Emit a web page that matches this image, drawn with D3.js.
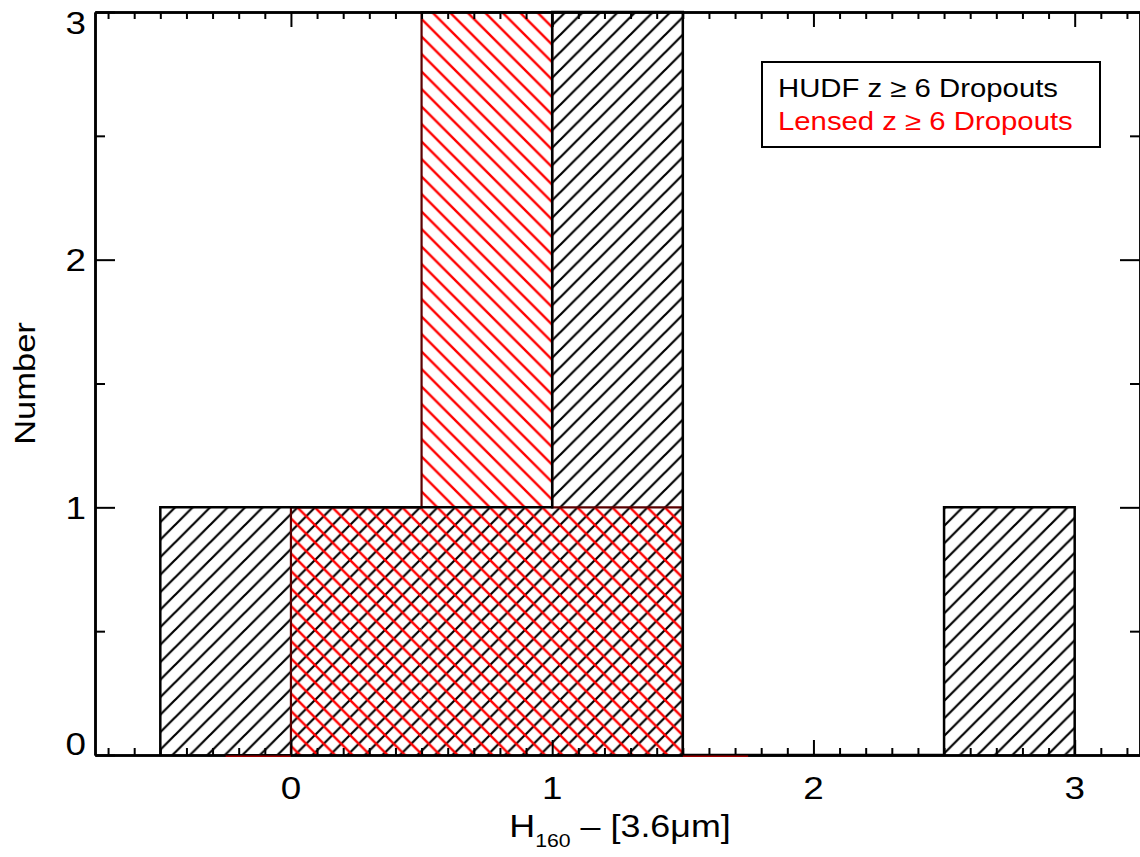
<!DOCTYPE html>
<html>
<head>
<meta charset="utf-8">
<script src="https://cdn.jsdelivr.net/npm/d3@7"></script>
<style>
  body { margin: 0; background: #fff; }
  svg text { font-family: "Liberation Sans", Arial, sans-serif; }
</style>
</head>
<body>
<div id="hist"></div>
<script>

// Set dimensions and margins for the plot
const width = 1140;
const height = 857;
const margin = {left: 95, right: 0, bottom: 102, top: 12};
const stretch = 1.15; // IDL fonts come out a bit wide

// Histogram data (bin left edges, bin width 0.5)
const binWidth = 0.5;
const hudfBins = [-0.5, 0, 0.5, 1, 1.5, 2, 2.5];
const hudfCounts = [1, 1, 1, 3, 0, 0, 1];
const lensedBins = [0, 0.5, 1];
const lensedCounts = [1, 3, 1];
const lensedEnds = [-0.25, 1.75]; // step outline runs along zero out to here

// Axis ticks
const xMajor = [0, 1, 2, 3];
const yMajor = [0, 1, 2, 3];
const yMinor = [0.5, 1.5, 2.5];
const legendLabels = ["HUDF z \u2265 6 Dropouts", "Lensed z \u2265 6 Dropouts"];
const legendColors = ["#000", "#ff0000"];

const svg = d3.select("#hist")
  .append("svg")
  .attr("width", width)
  .attr("height", height);

// scales
const x = d3.scaleLinear()
  .domain([-0.75, 3.25])
  .range([margin.left, width - margin.right]);

const y = d3.scaleLinear()
  .domain([0, 3])
  .range([height - margin.bottom, margin.top]);

// hatch patterns
const defs = svg.append("defs");
const sp = 17.5;

defs.append("pattern")
  .attr("id", "hatchBlack")
  .attr("patternUnits", "userSpaceOnUse")
  .attr("width", sp).attr("height", sp)
  .append("path")
  .attr("d", `M0,${sp} L${sp},0 M-4,4 L4,-4 M${sp-4},${sp+4} L${sp+4},${sp-4}`)
  .attr("stroke", "#000")
  .attr("stroke-width", 2.2);

defs.append("pattern")
  .attr("id", "hatchRed")
  .attr("patternUnits", "userSpaceOnUse")
  .attr("width", sp).attr("height", sp)
  .append("path")
  .attr("d", `M0,0 L${sp},${sp} M-4,${sp-4} L4,${sp+4} M${sp-4},-4 L${sp+4},4`)
  .attr("stroke", "#ff0000")
  .attr("stroke-width", 2.4);

// hatched bars, black first then red on top
const hudf = hudfBins.map((b, i) => ({x0: b, n: hudfCounts[i]}));
const lensed = lensedBins.map((b, i) => ({x0: b, n: lensedCounts[i]}));

svg.selectAll(".hudf")
  .data(hudf.filter(d => d.n > 0))
  .enter()
  .append("rect")
    .attr("class", "hudf")
    .attr("x", d => x(d.x0))
    .attr("y", d => y(d.n))
    .attr("width", d => x(d.x0 + binWidth) - x(d.x0))
    .attr("height", d => y(0) - y(d.n))
    .attr("fill", "url(#hatchBlack)");

svg.selectAll(".lensed")
  .data(lensed.filter(d => d.n > 0))
  .enter()
  .append("rect")
    .attr("class", "lensed")
    .attr("x", d => x(d.x0))
    .attr("y", d => y(d.n))
    .attr("width", d => x(d.x0 + binWidth) - x(d.x0))
    .attr("height", d => y(0) - y(d.n))
    .attr("fill", "url(#hatchRed)");

// step outlines
const step = d3.line()
  .x(d => x(d[0]))
  .y(d => y(d[1]))
  .curve(d3.curveStepAfter);

const lensedPts = [[lensedEnds[0], 0]]
  .concat(lensedBins.map((b, i) => [b, lensedCounts[i]]))
  .concat([[lensedBins[lensedBins.length - 1] + binWidth, 0], [lensedEnds[1], 0]]);

svg.append("path")
  .attr("d", step(lensedPts))
  .attr("fill", "none")
  .attr("stroke", "#5a0000")
  .attr("stroke-width", 2.2);

const hudfPts = [[hudfBins[0], 0]]
  .concat(hudfBins.map((b, i) => [b, hudfCounts[i]]))
  .concat([[hudfBins[hudfBins.length - 1] + binWidth, 0]]);

svg.append("path")
  .attr("d", step(hudfPts))
  .attr("fill", "none")
  .attr("stroke", "#000")
  .attr("stroke-width", 2.5);

// axes: ticks point inward on all four sides
const xMinor = d3.range(-7, 33).filter(i => i % 10 !== 0).map(i => i / 10);

function styleAxis(g) {
  g.selectAll("path.domain").attr("stroke", "#000").attr("stroke-width", 2.5);
  g.selectAll(".tick line").attr("stroke", "#000").attr("stroke-width", 2);
}

const axes = [
  {ax: d3.axisBottom, scale: x, at: `translate(0,${y(0)})`, major: xMajor, minor: xMinor, big: 15, small: 7},
  {ax: d3.axisTop, scale: x, at: `translate(0,${y(3)})`, major: xMajor, minor: xMinor, big: 15, small: 7},
  {ax: d3.axisLeft, scale: y, at: `translate(${x(-0.75)},0)`, major: yMajor, minor: yMinor, big: 20, small: 10},
  {ax: d3.axisRight, scale: y, at: `translate(${x(3.25)},0)`, major: yMajor, minor: yMinor, big: 20, small: 10}
];

axes.forEach(a => {
  svg.append("g")
    .attr("transform", a.at)
    .call(a.ax(a.scale).tickValues(a.minor).tickSize(-a.small).tickSizeOuter(0).tickFormat(""))
    .call(styleAxis);
  svg.append("g")
    .attr("transform", a.at)
    .call(a.ax(a.scale).tickValues(a.major).tickSize(-a.big).tickSizeOuter(0).tickFormat(""))
    .call(styleAxis);
});

// the red zero-level runs peek out just under the x axis
svg.selectAll(".redbase")
  .data([[lensedEnds[0], lensedBins[0]], [lensedBins[lensedBins.length - 1] + binWidth, lensedEnds[1]]])
  .enter()
  .append("line")
    .attr("class", "redbase")
    .attr("x1", d => x(d[0]))
    .attr("x2", d => x(d[1]))
    .attr("y1", y(0) + 1.2)
    .attr("y2", y(0) + 1.2)
    .attr("stroke", "#9a0000")
    .attr("stroke-width", 1.4);

// tick labels
svg.selectAll(".xlab")
  .data(xMajor)
  .enter()
  .append("text")
    .attr("class", "xlab")
    .attr("transform", d => `translate(${x(d)},799) scale(${stretch},1)`)
    .attr("text-anchor", "middle")
    .attr("font-size", 32)
    .text(d => d);

// IDL nudges the end labels inside the axis range
svg.selectAll(".ylab")
  .data(yMajor)
  .enter()
  .append("text")
    .attr("class", "ylab")
    .attr("transform", d => {
      const c = Math.min(Math.max(y(d), y(3) + 10), y(0) - 11.5);
      return `translate(86,${c + 11.5}) scale(${stretch},1)`;
    })
    .attr("text-anchor", "end")
    .attr("font-size", 32)
    .text(d => d);

// axis titles
const xTitle = svg.append("text")
  .attr("transform", `translate(620,837) scale(1.12,1)`)
  .attr("text-anchor", "middle")
  .attr("font-size", 32);
xTitle.append("tspan").text("H");
xTitle.append("tspan").attr("font-size", 19).attr("dy", 10).text("160");
xTitle.append("tspan").attr("dy", -10).text(" \u2013 [3.6\u03bcm]");

svg.append("text")
  .attr("transform", `translate(35,${(y(0) + y(3)) / 2}) rotate(-90) scale(${stretch},1)`)
  .attr("text-anchor", "middle")
  .attr("font-size", 30)
  .text("Number");

// legend
svg.append("rect")
  .attr("x", 762).attr("y", 62)
  .attr("width", 338).attr("height", 85)
  .attr("fill", "#fff")
  .attr("stroke", "#000")
  .attr("stroke-width", 2);

svg.selectAll(".leg")
  .data(legendLabels)
  .enter()
  .append("text")
    .attr("class", "leg")
    .attr("transform", (d, i) => `translate(778,${97 + i * 33}) scale(${stretch},1)`)
    .attr("font-size", 25.5)
    .attr("fill", (d, i) => legendColors[i])
    .text(d => d);

</script>
</body>
</html>
